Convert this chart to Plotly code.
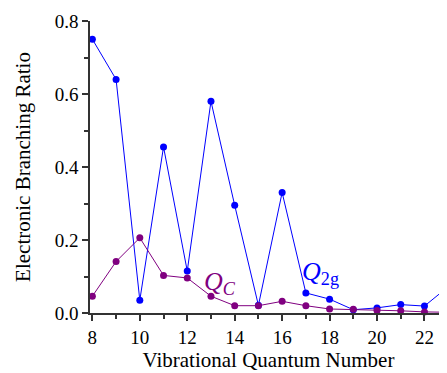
import plotly.graph_objects as go

v = list(range(8, 24))
q2g = [0.75, 0.64, 0.035, 0.455, 0.115, 0.58, 0.295, 0.021, 0.33, 0.055, 0.038, 0.009, 0.014, 0.023, 0.019, 0.072]
qc = [0.046, 0.141, 0.206, 0.103, 0.096, 0.046, 0.02, 0.02, 0.032, 0.02, 0.011, 0.01, 0.007, 0.006, 0.003, 0.002]

font = "Liberation Serif, Times New Roman, Times, serif"

fig = go.Figure()
fig.add_trace(go.Scatter(x=v, y=q2g, mode="lines+markers", cliponaxis=False,
                         line=dict(color="#0000FF", width=1), marker=dict(color="#0000FF", size=7)))
fig.add_trace(go.Scatter(x=v, y=qc, mode="lines+markers", cliponaxis=False,
                         line=dict(color="#800080", width=1), marker=dict(color="#800080", size=7)))

fig.add_annotation(x=13.38, y=0.082, text="<i>Q</i><sub><i>C</i></sub>", showarrow=False,
                   font=dict(family=font, size=26, color="#800080"))
fig.add_annotation(x=17.63, y=0.11, text="<i>Q</i><sub>2g</sub>", showarrow=False,
                   font=dict(family=font, size=26, color="#0000FF"))

axis_common = dict(showline=True, linecolor="#333333", linewidth=1.5, ticks="outside",
                   ticklen=6, tickwidth=1.5, tickcolor="#333333", showgrid=False, zeroline=False,
                   tickfont=dict(family=font, size=19, color="black"),
                   title_font=dict(family=font, size=21, color="black"))

fig.update_xaxes(range=[7.9, 22.95], tickvals=[8, 10, 12, 14, 16, 18, 20, 22],
                 minor=dict(dtick=1, tick0=0, ticks="outside", ticklen=4, tickwidth=1.5, tickcolor="#333333"),
                 title_text="Vibrational Quantum Number", title_standoff=2, **axis_common)
fig.update_yaxes(range=[0, 0.8], tickvals=[0, 0.2, 0.4, 0.6, 0.8], tickformat=".1f",
                 minor=dict(dtick=0.1, tick0=0, ticks="outside", ticklen=4, tickwidth=1.5, tickcolor="#333333"),
                 title_text="Electronic Branching Ratio", title_standoff=18, **axis_common)

fig.update_layout(width=439, height=365, margin=dict(l=82, r=0, t=13, b=60),
                  plot_bgcolor="white", paper_bgcolor="white", showlegend=False,
                  font=dict(family=font))

fig.write_html("out.html")
